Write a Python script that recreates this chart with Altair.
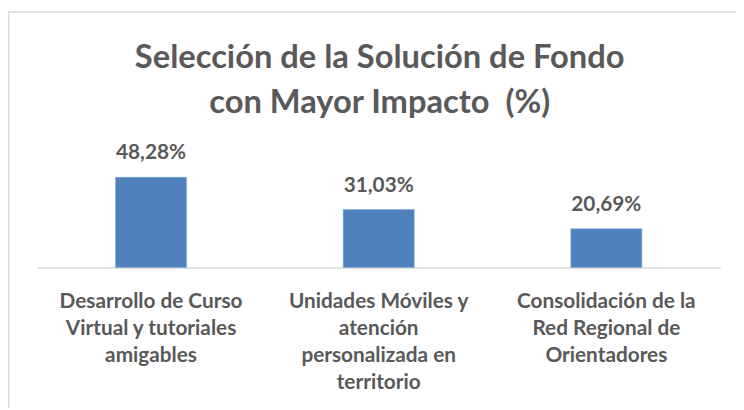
import altair as alt
import pandas as pd

categories = [
    "Desarrollo de Curso|Virtual y tutoriales|amigables",
    "Unidades Móviles y|atención|personalizada en|territorio",
    "Consolidación de la|Red Regional de|Orientadores",
]
values = [48.28, 31.03, 20.69]
value_labels = ["48,28%", "31,03%", "20,69%"]
title_lines = ["Selección de la Solución de Fondo", "con Mayor Impacto \u00a0(%)"]

df = pd.DataFrame({"cat": categories, "val": values, "lab": value_labels})

TEXT = "#595959"
FONT = "Lato"
W, H = 690, 128

x = alt.X(
    "cat:N",
    sort=None,
    scale=alt.Scale(paddingInner=0.688, paddingOuter=0.344),
    axis=alt.Axis(
        title=None,
        labelAngle=0,
        labelExpr="split(datum.label, '|')",
        labelFont=FONT,
        labelFontSize=21,
        labelFontWeight="bold",
        labelColor=TEXT,
        labelLineHeight=27,
        labelPadding=24,
        labelLimit=0,
        ticks=False,
        domainColor="#d9d9d9",
        domainWidth=1.5,
        grid=False,
    ),
)
y = alt.Y("val:Q", scale=alt.Scale(domain=[0, 67.9]), axis=None)

bars = alt.Chart(df).mark_bar(color="#4F81BD", stroke="#7ea3d0", strokeWidth=0.5).encode(x=x, y=y)
texts = alt.Chart(df).mark_text(
    baseline="alphabetic", dy=-18, font=FONT, fontSize=21, fontWeight="bold", color=TEXT
).encode(x=x, y=y, text="lab:N")

title_df = pd.DataFrame({"t": title_lines, "yy": [-73, -28]})
title = alt.Chart(title_df).mark_text(
    baseline="alphabetic", align="center", font=FONT, fontSize=33, fontWeight="bold", color=TEXT
).encode(
    x=alt.value(W / 2 + 1),
    y=alt.Y("yy:Q", scale=None),
    text="t:N",
)

frame_data = alt.Data(values=[{"a": 1}])
top_line = alt.Chart(frame_data).mark_rule(color="#d9d9d9", strokeWidth=1.5).encode(
    x=alt.value(-30), x2=alt.value(W + 20), y=alt.value(-130)
)
left_line = alt.Chart(frame_data).mark_rule(color="#d9d9d9", strokeWidth=1.5).encode(
    x=alt.value(-29), y=alt.value(-130), y2=alt.value(H + 150)
)

chart = (
    alt.layer(bars, texts, title, top_line, left_line)
    .properties(
        width=W,
        height=H,
        padding={"left": 29.5, "top": 132, "right": 16, "bottom": 140},
        autosize=alt.AutoSizeParams(type="none"),
    )
    .configure_view(stroke=None)
)

chart.save("out.html", embed_options={"renderer": "svg", "actions": False})
